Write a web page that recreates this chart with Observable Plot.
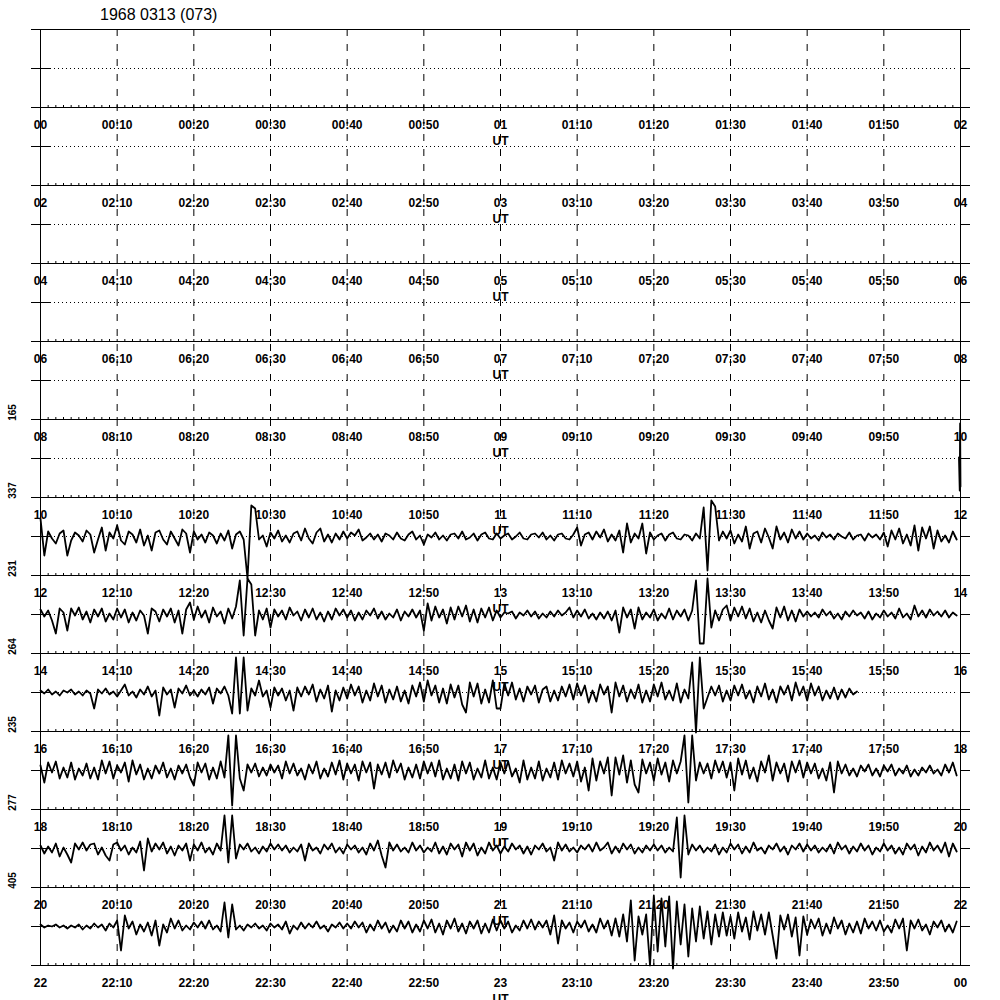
<!DOCTYPE html>
<html>
<head>
<meta charset="utf-8">
<script src="https://cdn.jsdelivr.net/npm/d3@7"></script>
<script src="https://cdn.jsdelivr.net/npm/@observablehq/plot@0.6"></script>
<style>
html, body { margin: 0; padding: 0; background: #fff; overflow: hidden; width: 1000px; height: 1000px; }
#title { position: absolute; left: 100px; top: 7px; font: 16px "Liberation Sans", Arial, Helvetica, sans-serif; line-height: 16px; color: #000; white-space: nowrap; }
#chart { position: absolute; left: 0; top: 28px; }
</style>
</head>
<body>
<div id="title"></div>
<div id="chart"></div>
<script>
// ---------------- data ----------------
const titleText = "1968 0313 (073)";
// 13 two-hour rows (first one unlabeled / empty)
const rowHours = ["", "00", "02", "04", "06", "08", "10", "12", "14", "16", "18", "20", "22"];
const tickMinutes = [0, 10, 20, 30, 40, 50, 60, 70, 80, 90, 100, 110, 120];
const scaleRows = ["08", "10", "12", "14", "16", "18", "20"];
const scaleLabels = ["165", "337", "231", "264", "235", "277", "405"];
const sampleStep = 0.5; // minutes between samples

// short burst at the very end of the 08-10 row
const row08Min = [119.8, 119.9, 119.95, 120];
const row08Amp = [1, -32, 35, -28];

const row10 = [
  18,-19,5,-2,-7,3,6,-19,-4,4,1,-5,6,2,-16,-3,9,-14,4,-2,
  11,-4,-8,5,2,-6,7,-9,1,-14,4,6,-3,-8,5,-2,-9,7,3,-16,
  5,-3,2,-6,4,1,-7,3,-4,6,-12,2,5,-3,-42,31,28,-3,1,-10,
  4,-2,6,-5,1,-6,3,5,-4,8,-2,-7,4,8,-5,2,-6,3,-3,5,
  -2,4,1,7,-4,-1,3,-3,2,-5,3,1,-3,4,-2,-4,2,5,-3,1,
  -8,2,-1,4,-3,1,-4,2,3,-2,5,-3,-1,3,-4,2,4,-2,-3,3,
  -2,1,3,-3,0,4,-2,-3,2,3,-1,4,-3,1,-4,2,3,-2,-3,2,
  9,-9,2,4,-3,5,-1,7,-5,2,-4,6,-16,13,-6,3,-2,13,-17,4,
  -3,1,3,-4,2,4,-2,-3,2,1,-4,3,-2,29,-34,36,30,-4,5,-2,
  6,-7,2,-5,10,-12,3,5,-6,8,-1,-12,10,-3,4,-6,7,-2,5,-3,
  3,-2,1,-4,4,-1,2,-3,3,0,-2,4,-3,1,2,-4,3,-1,2,-3,
  4,-10,6,-3,8,-7,2,-9,11,-14,9,-2,10,-12,6,-5,1,-6,5,-3
];
const row12 = [
  5,-2,4,-6,-19,6,2,-16,6,-1,7,-5,3,-8,5,-2,6,-7,1,-5,
  6,-3,5,-8,2,-6,4,-1,-19,6,3,-7,5,-2,6,-8,4,-19,5,12,
  -5,8,-3,4,-8,7,-2,3,-9,6,-4,8,34,-21,36,30,-21,4,-5,6,
  -13,5,-2,4,-5,7,-1,3,-6,5,-3,6,-5,2,-7,3,-5,6,-1,5,
  -3,4,-6,2,-5,4,-1,6,-4,3,-5,1,-3,5,-6,3,-2,5,-3,4,
  -16,11,-6,8,-3,5,-9,7,-5,8,-2,9,-7,5,-8,6,-3,7,-6,4,
  -3,2,1,3,-4,2,-1,4,-2,3,-4,1,-3,3,-2,4,-1,2,7,-3,
  4,-2,5,-4,1,-5,2,-4,3,-6,4,-18,7,-3,5,-14,7,-5,2,-3,
  5,-6,1,-4,6,-5,4,-2,5,-6,4,34,-29,-29,36,-13,4,-6,5,9,
  -6,7,-2,8,-4,6,-7,2,-8,4,-6,-14,7,-3,8,-6,4,-7,5,-2,
  3,-2,2,-3,5,-1,3,-4,1,-5,3,-2,4,-1,2,-4,3,-5,1,-3,
  4,-2,2,-4,6,-3,1,-5,9,-2,4,-3,5,-1,3,-2,4,-3,2,-1
];
const row14 = [
  2,-1,3,-2,1,-3,2,0,3,-2,1,-3,2,-1,-16,3,-1,4,-2,1,
  -4,2,8,-3,1,-5,3,-2,6,-4,2,-23,5,-2,3,-15,4,-1,7,-3,
  2,-4,3,-2,5,-11,4,-1,6,-3,-21,35,-21,35,-18,4,-3,12,-4,2,
  -15,5,-3,4,-8,2,-18,5,-4,6,-2,8,-9,3,-6,7,-19,2,-8,5,
  -6,8,-3,6,-10,2,-8,9,-4,7,-10,3,-7,6,-9,2,-11,7,-4,10,
  -9,12,-3,7,-10,4,-11,8,-5,7,-12,-20,10,-4,9,-11,3,-10,12,-16,
  -16,9,-3,10,-7,4,-9,6,-2,7,-10,3,6,-9,2,-8,6,-4,8,-7,
  9,-3,7,-10,2,-9,8,-2,6,-20,10,-4,7,-9,3,-6,8,-10,2,-9,
  8,-4,10,-7,2,-8,9,-10,3,-6,30,-40,35,-16,-5,6,-3,7,-9,2,
  -8,7,-3,8,-6,2,-10,6,-4,9,-7,3,-10,6,-2,7,-8,10,-3,6,
  -8,9,-3,6,-8,2,-6,5,-7,3,-5,4,-2,1
];
const row16 = [
  5,-12,8,-2,9,-8,3,-7,8,-9,2,-5,7,-8,3,-9,10,-3,9,-8,
  5,-2,8,-11,10,-4,6,-9,2,-8,5,-3,8,-7,2,-9,5,-3,6,-7,
  -15,8,-2,7,-9,3,-8,9,-7,35,-35,35,-8,-20,6,-2,7,-6,3,-5,
  6,-2,5,-8,9,-3,7,-5,2,-9,6,-3,9,-8,2,-6,8,-4,10,-9,
  7,-3,6,-10,9,-2,8,-18,6,-4,8,-7,10,-2,7,-9,3,-7,6,-8,
  9,-3,8,-6,10,-9,2,-8,6,-10,9,-3,8,-9,2,-7,10,-8,3,-9,
  8,-3,9,-6,2,-12,10,-9,3,-8,9,-10,2,-7,8,-9,10,-3,7,-6,
  9,-11,3,-20,12,-10,9,-3,13,-25,13,-4,15,-12,10,-14,-22,11,-3,8,
  -10,12,-4,8,-11,10,-3,9,35,-32,35,-10,8,-3,7,-8,10,-2,9,-7,
  8,-20,12,-4,10,-8,3,-11,9,-2,15,-10,8,-3,7,-11,9,-2,10,-7,
  8,-3,7,-8,2,-10,8,-22,9,-3,6,-5,2,-6,5,-1,6,-5,2,-6,
  5,-1,6,-5,2,-3,5,-6,1,-5,3,-2,5,-3,1,-5,6,-2,8,-5
];
const row18 = [
  3,-5,2,-4,5,-8,1,-6,-14,5,-1,6,-2,4,5,-6,1,-7,-12,4,
  6,-2,3,-6,1,-4,7,-22,10,-3,5,-1,6,-5,2,-7,3,-2,5,-12,
  4,-2,6,-4,1,-6,5,-2,33,-14,33,-10,4,-1,5,-3,1,-5,2,-3,
  5,-1,4,-2,3,-4,1,-3,4,-12,5,-2,1,-5,4,-1,5,-4,1,-5,
  4,-1,3,-4,1,-6,5,-2,8,-7,-19,6,-2,4,-3,1,-4,6,-2,3,
  -4,1,-3,6,-5,2,-6,5,-1,4,-8,6,-2,5,-7,1,-5,6,-2,3,
  -5,2,-3,5,-1,3,-5,2,-6,3,-1,5,-3,1,-12,6,-2,4,-3,1,
  -4,3,-1,4,-3,6,-2,1,6,-5,2,-4,5,-1,4,-5,1,-4,3,-2,
  4,-2,3,-4,1,-3,31,-29,33,-6,4,-2,3,-4,1,-3,4,-6,1,-4,
  5,-1,4,-5,2,-4,6,-2,1,-5,3,-1,5,-3,2,-6,3,-1,5,-3,
  4,-2,3,-4,1,-3,4,-5,6,-1,3,-5,2,-3,5,-2,3,-6,1,-3,
  5,-2,3,-5,1,-6,5,-1,4,-7,2,-4,6,-2,3,-4,6,-8,5,-3
];
const row20 = [
  2,-1,1,0,2,-1,1,-2,1,-1,2,-3,1,-2,3,-1,2,-4,3,-1,
  6,-24,11,-2,5,-8,2,-5,4,-9,6,-19,2,-6,8,-2,6,-4,1,-3,
  4,-1,5,-2,6,-3,1,-5,24,-11,22,-3,1,-4,2,-1,3,-2,1,-4,
  3,-1,2,-3,5,-7,1,-3,4,-2,3,-1,5,-2,1,-5,2,-1,4,-2,
  3,-2,5,-1,4,-6,2,-4,6,-2,4,-6,1,-5,6,-2,5,-6,2,-5,
  6,-2,7,-6,3,-8,6,-2,8,-5,3,-7,5,-2,6,-7,3,-6,7,-4,
  6,-2,5,-6,1,-4,6,-2,7,-3,5,-1,6,-8,11,-17,6,-2,4,-6,
  5,-1,6,-5,2,-6,8,-2,6,-9,8,-10,12,-15,26,-34,10,-8,12,-39,
  31,-25,28,-20,30,-42,25,-18,22,-30,18,-15,20,-12,15,-18,12,-10,14,-9,
  10,-12,14,-5,9,-13,15,-4,12,-8,14,-9,-32,11,-3,12,-10,9,-29,10,
  -8,7,-2,8,-9,3,-7,9,-2,6,-8,3,-6,5,-7,8,-2,5,-4,6,
  -5,1,-6,7,-2,8,-24,6,-2,7,-4,2,-8,5,-1,6,-5,2,-6,5
];

// ---------------- build ----------------
document.getElementById("title").textContent = titleText;

const ROW_H = 78;
const rowTop = r => r * ROW_H;
const rowIdx = Object.fromEntries(rowHours.map((h, i) => [h, i]));
const allRows = rowHours.map((h, i) => i);
const labeledRows = allRows.filter(r => rowHours[r] !== "");
const plotRows = allRows.slice(0, 12);

const traceData = [];
[["10", row10], ["12", row12], ["14", row14], ["16", row16], ["18", row18], ["20", row20]]
  .forEach(([h, vals]) => vals.forEach((a, i) => traceData.push({row: h, m: i * sampleStep, a})));
row08Min.forEach((m, i) => traceData.push({row: "08", m, a: row08Amp[i]}));

const labelData = [];
labeledRows.forEach(r => {
  const hh = +rowHours[r];
  tickMinutes.forEach(t => {
    const H = String((hh + Math.floor(t / 60)) % 24).padStart(2, "0");
    const mm = t % 60;
    labelData.push({r, m: t, text: mm ? `${H}:${mm}` : H});
  });
});
const utData = labeledRows.map(r => ({r, m: 60, text: "UT"}));

const minuteTickData = [];
labeledRows.forEach(r => d3.range(1, 120).forEach(m => minuteTickData.push({r, m})));

const scaleData = scaleRows.map((h, i) => ({r: rowIdx[h], text: scaleLabels[i]}));
const tenMinutes = tickMinutes.filter(t => t > 0 && t < 120);

const chart = Plot.plot({
  width: 1000,
  height: 972,
  marginLeft: 31,
  marginRight: 30,
  marginTop: 0,
  marginBottom: 0,
  x: {domain: [0, 120], range: [40, 960], axis: null},
  y: {domain: [0, 971], range: [1, 972], axis: null},
  style: {fontFamily: '"Liberation Sans", Arial, Helvetica, sans-serif', background: "white", color: "black"},
  marks: [
    // row boundaries
    Plot.ruleY(allRows, {y: r => rowTop(r), stroke: "black", strokeWidth: 1}),
    // minute ticks on the bottom of each row
    Plot.ruleX(minuteTickData, {x: "m", y1: d => rowTop(d.r) - 2, y2: d => rowTop(d.r), stroke: "black", strokeWidth: 1}),
    // 10-minute dashed grid
    Plot.ruleX(tenMinutes, {y1: 0, y2: 12 * ROW_H, stroke: "black", strokeWidth: 1, strokeDasharray: "7,8"}),
    // left/right frame
    Plot.ruleX([0, 120], {y1: 0, y2: 12 * ROW_H, stroke: "black", strokeWidth: 1}),
    // dotted centre lines and their ticks
    Plot.ruleY(plotRows, {y: r => rowTop(r) + ROW_H / 2, stroke: "black", strokeWidth: 1, strokeDasharray: "1,3", insetLeft: 19, insetRight: 13}),
    Plot.ruleY(plotRows, {y: r => rowTop(r) + ROW_H / 2, stroke: "black", strokeWidth: 1, insetRight: 920}),
    Plot.ruleY(plotRows, {y: r => rowTop(r) + ROW_H / 2, stroke: "black", strokeWidth: 1, insetLeft: 929}),
    // time labels
    Plot.text(labelData, {x: "m", y: d => rowTop(d.r) + 18, text: "text", fontSize: 12, fontWeight: "bold"}),
    Plot.text(utData, {x: "m", y: d => rowTop(d.r) + 34, text: "text", fontSize: 12, fontWeight: "bold"}),
    // rotated scale numbers on the left
    Plot.text(scaleData, {x: 0, dx: -28, y: d => rowTop(d.r) - 7, text: "text", rotate: -90, fontSize: 10, fontWeight: "bold"}),
    // traces
    Plot.line(traceData, {x: "m", y: d => rowTop(rowIdx[d.row]) + ROW_H / 2 - d.a, z: "row", stroke: "black", strokeWidth: 1.8})
  ]
});
document.getElementById("chart").appendChild(chart);
</script>
</body>
</html>
